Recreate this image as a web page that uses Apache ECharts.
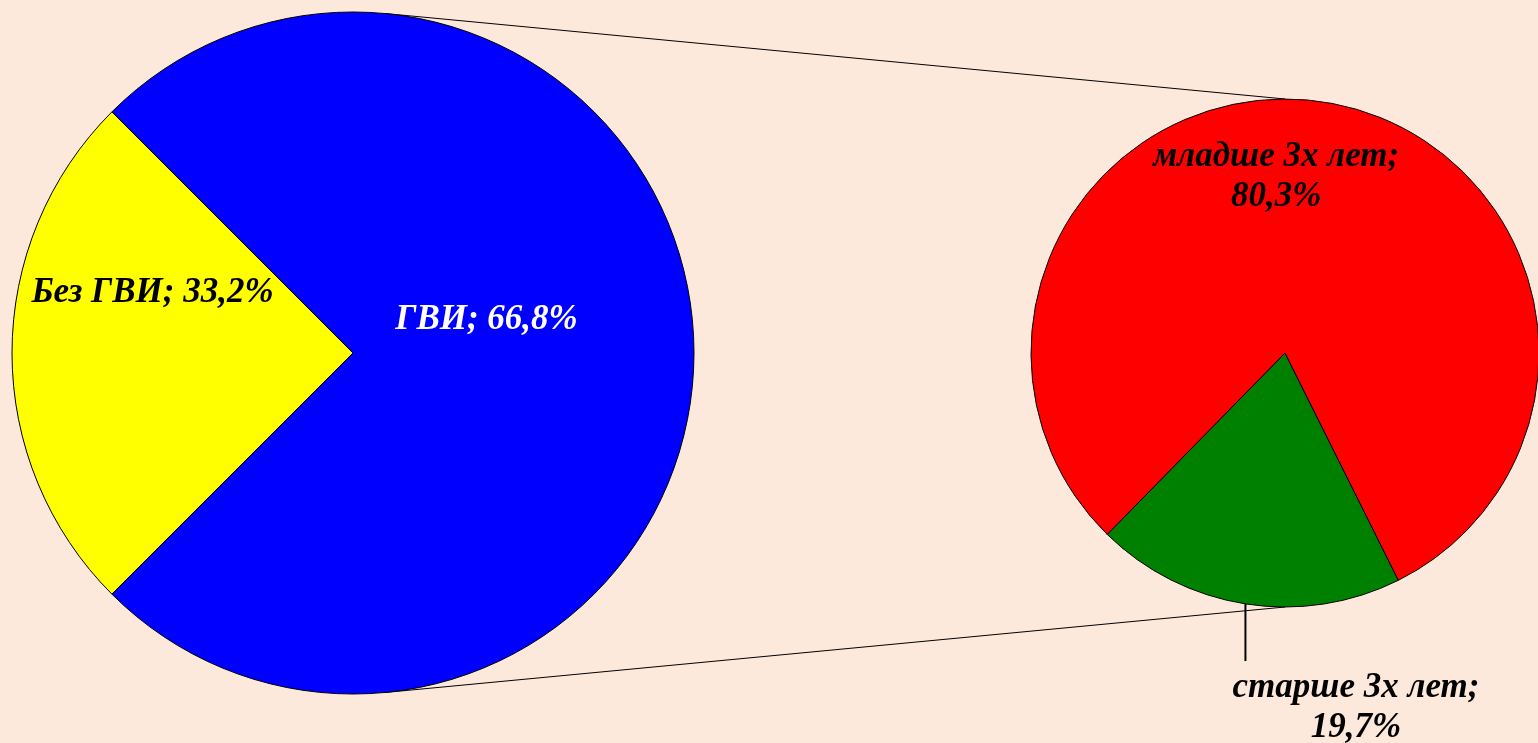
<!DOCTYPE html>
<html>
<head>
<meta charset="utf-8">
<title>ГВИ</title>
<script src="https://cdn.jsdelivr.net/npm/echarts@6/dist/echarts.min.js"></script>
<style>
  html, body { margin: 0; padding: 0; background: #fde9dc; }
  #chart { width: 1538px; height: 743px; }
</style>
</head>
<body>
<div id="chart"></div>
<script>
// main pie: slice sizes as drawn, with the printed percentages
const mainNames = ['Без ГВИ', 'ГВИ'];
const mainValues = [25, 75];
const mainPercents = ['33,2%', '66,8%'];

// secondary pie: breakdown of ГВИ
const subNames = ['старше 3х лет', 'младше 3х лет'];
const subValues = [19.7, 80.3];
const subPercents = ['19,7%', '80,3%'];

const mainColors = ['#ffff00', '#0000ff'];
const subColors = ['#008000', '#ff0000'];

// layout
const PIE1 = { cx: 353, cy: 353, r: 341 };
const PIE2 = { cx: 1285, cy: 353, r: 254 };
const FONT = 'Liberation Serif, Times New Roman, serif';

const chart = echarts.init(document.getElementById('chart'));

// label nudges from the default inside position
const mainShift = [{ dx: -27, dy: -60 }, { dx: -40, dy: -33 }];
const subShift = [null, { dx: -29, dy: -48 }];

// tangent point on the big pie for a line coming from point p
function tangentPoint(p, sign) {
  const dx = p[0] - PIE1.cx, dy = p[1] - PIE1.cy;
  const d = Math.sqrt(dx * dx + dy * dy);
  const a = Math.atan2(dy, dx) + sign * Math.acos(PIE1.r / d);
  return [PIE1.cx + PIE1.r * Math.cos(a), PIE1.cy + PIE1.r * Math.sin(a)];
}
const topEnd = [PIE2.cx, PIE2.cy - PIE2.r];
const botEnd = [PIE2.cx, PIE2.cy + PIE2.r];
const topStart = tangentPoint(topEnd, -1);
const botStart = tangentPoint(botEnd, 1);

const labelText = {
  fontFamily: FONT,
  fontStyle: 'italic',
  fontWeight: 'bold',
  fontSize: 35,
  lineHeight: 40
};

const option = {
  backgroundColor: '#fde9dc',
  animation: false,
  graphic: [
    { type: 'line', z: 0, shape: { x1: topStart[0], y1: topStart[1], x2: topEnd[0], y2: topEnd[1] },
      style: { stroke: '#000', lineWidth: 1 } },
    { type: 'line', z: 0, shape: { x1: botStart[0], y1: botStart[1], x2: botEnd[0], y2: botEnd[1] },
      style: { stroke: '#000', lineWidth: 1 } }
  ],
  series: [
    {
      type: 'pie',
      z: 2,
      center: [PIE1.cx, PIE1.cy],
      radius: PIE1.r,
      startAngle: 225,
      clockwise: true,
      silent: true,
      itemStyle: { borderColor: '#000', borderWidth: 1 },
      label: Object.assign({ position: 'inside', color: '#000' }, labelText),
      labelLine: { show: false },
      labelLayout: (p) => mainShift[p.dataIndex],
      data: mainNames.map((n, i) => ({
        name: n,
        value: mainValues[i],
        itemStyle: { color: mainColors[i] },
        label: {
          formatter: n + '; ' + mainPercents[i],
          color: i === 1 ? '#fff' : '#000'
        }
      }))
    },
    {
      type: 'pie',
      z: 2,
      center: [PIE2.cx, PIE2.cy],
      radius: PIE2.r,
      startAngle: 296.5,
      clockwise: true,
      silent: true,
      itemStyle: { borderColor: '#000', borderWidth: 1 },
      labelLayout: (p) => {
        if (p.dataIndex !== 0) return subShift[p.dataIndex];
        const p0 = (p.labelLinePoints && p.labelLinePoints[0]) || [1246, 603];
        return {
          x: 1356, y: 668, align: 'center', verticalAlign: 'top',
          labelLinePoints: [[p0[0], p0[1]], [p0[0], 661]]
        };
      },
      data: subNames.map((n, i) => ({
        name: n,
        value: subValues[i],
        itemStyle: { color: subColors[i] },
        label: Object.assign({
          position: i === 0 ? 'outside' : 'inside',
          color: '#000',
          align: 'center',
          formatter: n + ';\n' + subPercents[i]
        }, labelText),
        labelLine: i === 0
          ? { show: true, length: 50, length2: 0, lineStyle: { color: '#000', width: 2 } }
          : { show: false }
      }))
    }
  ]
};

chart.setOption(option);
</script>
</body>
</html>
